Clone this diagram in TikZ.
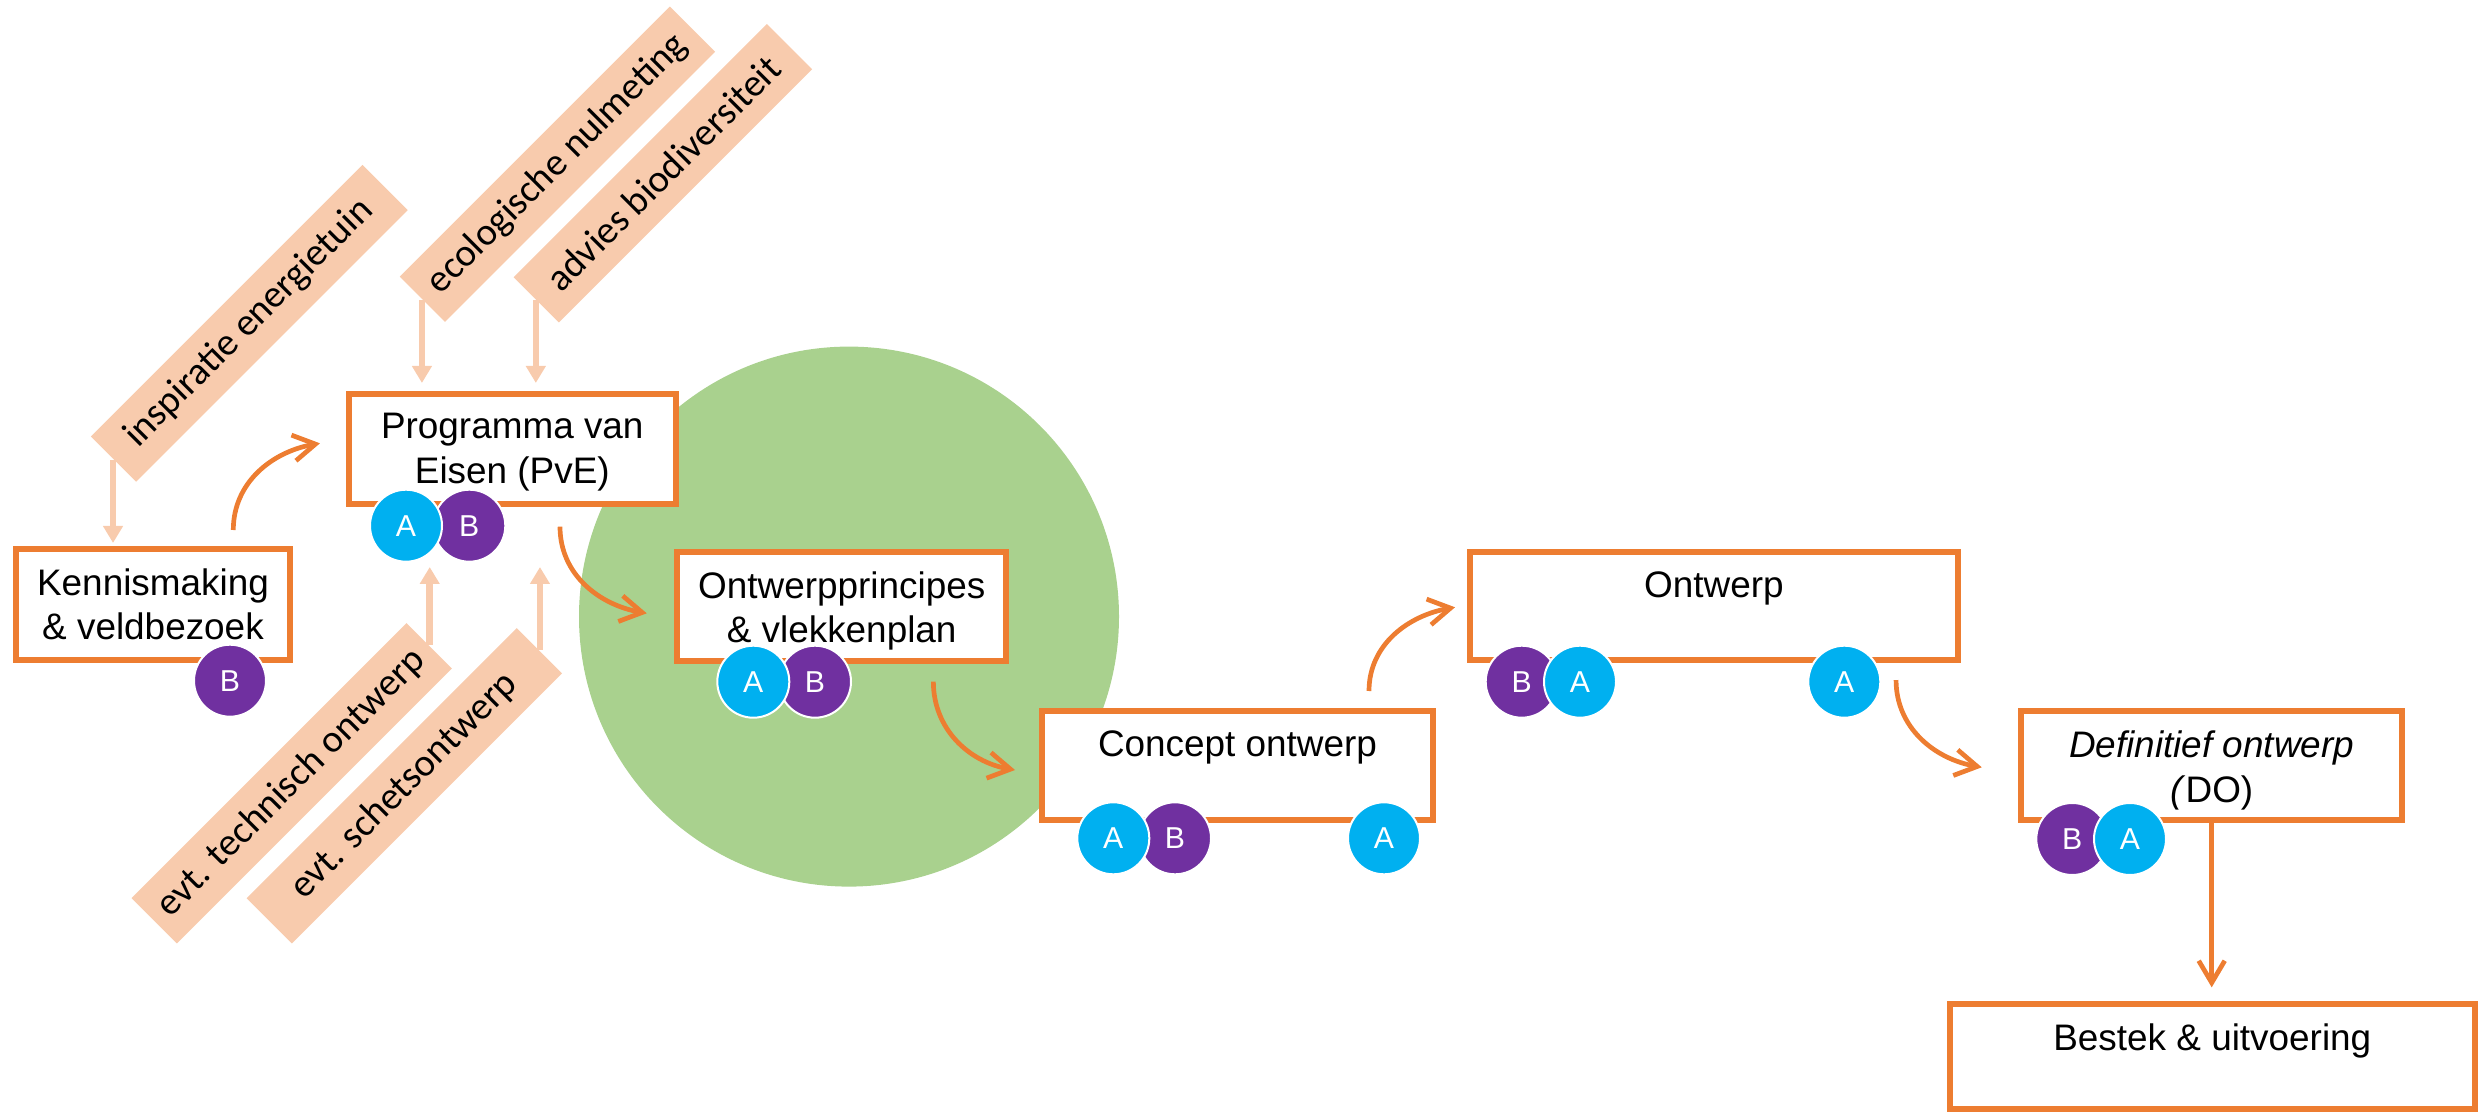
\documentclass[tikz,border=0pt]{standalone}
\usepackage{fontspec}
\setmainfont{Liberation Sans}
\newfontfamily\bannerfont{Carlito}
\usepackage{tikz}
\usetikzlibrary{arrows.meta}
\pgfdeclarelayer{nodelayer}
\pgfdeclarelayer{edgelayer}
\pgfsetlayers{nodelayer,edgelayer,main}

\definecolor{oranje}{HTML}{ED7D31}
\definecolor{perzik}{HTML}{F8CBAD}
\definecolor{groen}{HTML}{A9D18E}
\definecolor{blauw}{HTML}{00B0F0}
\definecolor{paars}{HTML}{7030A0}

\tikzset{
  fase/.style={rectangle, draw=oranje, line width=0.06cm, fill=white, inner sep=0pt, outer sep=0pt},
  fasetekst/.style={anchor=north, yshift=-0.19cm, inner sep=0pt, align=center, font=\fontsize{10.5}{12.6}\selectfont},
  rol/.style={circle, draw=white, line width=0.02cm, minimum size=0.72cm, inner sep=0pt, text=white, font=\fontsize{8.6}{10}\selectfont},
  rolA/.style={rol, fill=blauw},
  rolB/.style={rol, fill=paars},
  banier/.style={rectangle, fill=perzik, rotate=45, minimum height=0.64cm, inner sep=0pt, font=\bannerfont\fontsize{11}{13}\selectfont},
  invoer/.style={draw=perzik, line width=0.065cm, -{Triangle[length=0.17cm, width=0.19cm]}},
  stap/.style={draw=oranje, line width=0.047cm, -{Straight Barb[length=0.22cm, width=0.26cm]}},
}

\begin{document}
\begin{tikzpicture}
  \useasboundingbox (0, 0) rectangle (24.79, -11.12);
  \begin{pgfonlayer}{nodelayer}
    \fill [groen] (8.49, -6.166) circle (2.70);
    % fases
    \node [fase, minimum width=2.74cm, minimum height=1.11cm, label={[fasetekst]north:Kennismaking\\\& veldbezoek}] (0) at (1.53, -6.045) {};
    \node [fase, minimum width=3.273cm, minimum height=1.106cm, label={[fasetekst]north:Programma van\\Eisen (PvE)}] (1) at (5.123, -4.49) {};
    \node [fase, minimum width=3.293cm, minimum height=1.09cm, label={[fasetekst]north:Ontwerpprincipes\\\& vlekkenplan}] (2) at (8.417, -6.065) {};
    \node [fase, minimum width=3.91cm, minimum height=1.09cm, label={[fasetekst]north:Concept ontwerp}] (3) at (12.375, -7.658) {};
    \node [fase, minimum width=4.883cm, minimum height=1.083cm, label={[fasetekst]north:Ontwerp}] (4) at (17.139, -6.062) {};
    \node [fase, minimum width=3.807cm, minimum height=1.09cm, label={[fasetekst]north:\textit{Definitief ontwerp}\\\textit{(}DO)}] (5) at (22.117, -7.658) {};
    \node [fase, minimum width=5.255cm, minimum height=1.047cm, label={[fasetekst]north:Bestek \& uitvoering}] (6) at (22.123, -10.567) {};
    % invoer
    \node [banier, minimum width=3.84cm] (7) at (2.493, -3.233) {inspiratie energietuin};
    \node [banier, minimum width=3.82cm] (8) at (5.575, -1.642) {ecologische nulmeting};
    \node [banier, minimum width=3.58cm] (9) at (6.629, -1.733) {advies biodiversiteit};
    \node [banier, minimum width=3.89cm] (10) at (2.917, -7.833) {evt. technisch ontwerp};
    \node [banier, minimum width=3.82cm] (11) at (4.044, -7.858) {evt. schetsontwerp};
    % rollen
    \node [rolB] (12) at (2.30, -6.807) {B};
    \node [rolB] (13) at (4.693, -5.257) {B};
    \node [rolA] (14) at (4.06, -5.257) {A};
    \node [rolB] (15) at (8.15, -6.817) {B};
    \node [rolA] (16) at (7.533, -6.817) {A};
    \node [rolB] (17) at (11.75, -8.383) {B};
    \node [rolA] (18) at (11.133, -8.383) {A};
    \node [rolA] (19) at (13.84, -8.383) {A};
    \node [rolB] (20) at (15.217, -6.817) {B};
    \node [rolA] (21) at (15.80, -6.817) {A};
    \node [rolA] (22) at (18.443, -6.817) {A};
    \node [rolB] (23) at (20.723, -8.39) {B};
    \node [rolA] (24) at (21.30, -8.39) {A};
  \end{pgfonlayer}
  \begin{pgfonlayer}{edgelayer}
    \draw [invoer, shorten >=0.06cm] (7.west) -- (7.west |- 0.north);
    \draw [invoer, shorten >=0.107cm] (8.west) -- (8.west |- 1.north);
    \draw [invoer, shorten >=0.107cm] (9.west) -- (9.west |- 1.north);
    \draw [invoer, shorten >=0.627cm] (10.east) -- (10.east |- 1.south);
    \draw [invoer, shorten >=0.627cm] (11.east) -- (11.east |- 1.south);
    \draw [stap] ([shift={(-0.567, 0.19)}]0.north east) to [out=90, in=190] ([shift={(-0.287, 0.057)}]1.west);
    \draw [stap] ([shift={(0.477, -0.224)}]1.south) to [out=-90, in=170] ([shift={(-0.303, -0.068)}]2.west);
    \draw [stap] ([shift={(-0.73, -0.207)}]2.south east) to [out=-90, in=170] ([shift={(-0.27, -0.042)}]3.west);
    \draw [stap] ([shift={(1.315, 0.203)}]3.north) to [out=90, in=190] ([shift={(-0.147, -0.011)}]4.west);
    \draw [stap] ([shift={(-0.62, -0.197)}]4.south east) to [out=-90, in=170] ([shift={(-0.396, -0.015)}]5.west);
    \draw [stap, shorten >=0.17cm] (5.south) -- (5.south |- 6.north);
  \end{pgfonlayer}
\end{tikzpicture}
\end{document}
